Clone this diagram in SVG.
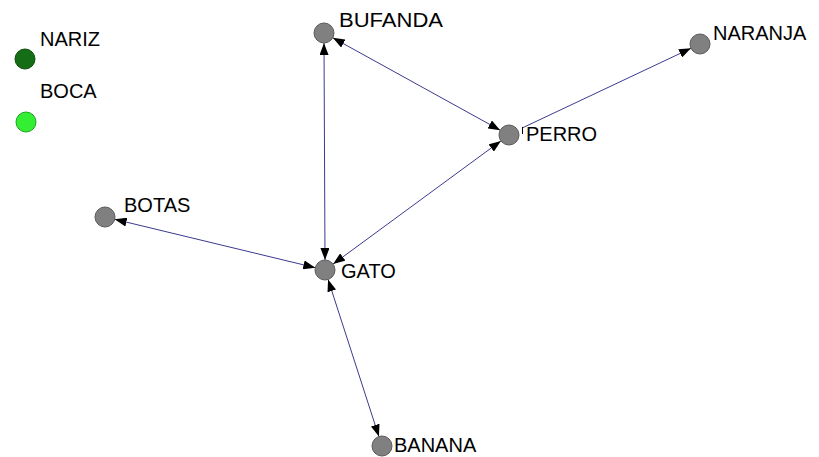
<svg xmlns="http://www.w3.org/2000/svg" width="819" height="457" viewBox="0 0 819 457">
  <style>
    .edge { stroke: #3b3b8f; stroke-width: 1; fill: none; }
    .node { fill: #808080; stroke: #5a5a5a; stroke-width: 1; }
    .lbl { font-family: "Liberation Sans", Arial, sans-serif; font-size: 20px; fill: #000; }
  </style>
  <defs>
    <marker id="arrow" viewBox="0 0 12 9" refX="12" refY="4.5" markerWidth="12" markerHeight="9" markerUnits="userSpaceOnUse" orient="auto-start-reverse">
      <path d="M0,0 L12,4.5 L0,9 z" fill="#000"/>
    </marker>
  </defs>
  <rect width="819" height="457" fill="#fff"/>

  <!-- connectors -->
  <g id="edges">
    <line class="edge" x1="324" y1="43" x2="325" y2="260" marker-start="url(#arrow)" marker-end="url(#arrow)"/>
    <line class="edge" x1="332.8" y1="37.8" x2="500.2" y2="130.2" marker-start="url(#arrow)" marker-end="url(#arrow)"/>
    <line class="edge" x1="523" y1="127.6" x2="691" y2="48.3" marker-end="url(#arrow)"/>
    <line class="edge" x1="333.1" y1="264.1" x2="500.9" y2="140.9" marker-start="url(#arrow)" marker-end="url(#arrow)"/>
    <line class="edge" x1="114.7" y1="219.3" x2="315.3" y2="267.7" marker-start="url(#arrow)" marker-end="url(#arrow)"/>
    <line class="edge" x1="328.1" y1="279.5" x2="378.9" y2="436.5" marker-start="url(#arrow)" marker-end="url(#arrow)"/>
  </g>

  <!-- nodes -->
  <g id="nariz">
    <circle cx="25" cy="59" r="10" fill="#156d15" stroke="#0d4d0d"/>
    <text class="lbl" x="40" y="46">NARIZ</text>
  </g>
  <g id="boca">
    <circle cx="26" cy="122" r="10" fill="#33ee33" stroke="#1fa51f"/>
    <text class="lbl" x="40" y="98">BOCA</text>
  </g>
  <g id="bufanda">
    <circle class="node" cx="324" cy="33" r="10"/>
    <text class="lbl" x="339" y="27" textLength="104" lengthAdjust="spacingAndGlyphs">BUFANDA</text>
  </g>
  <g id="naranja">
    <circle class="node" cx="700" cy="44" r="10"/>
    <text class="lbl" x="713" y="40">NARANJA</text>
  </g>
  <g id="perro">
    <circle class="node" cx="509" cy="135" r="10"/>
    <line x1="522.5" y1="127" x2="522.5" y2="134" stroke="#000" stroke-width="1"/>
    <text class="lbl" x="526" y="141">PERRO</text>
  </g>
  <g id="botas">
    <circle class="node" cx="105" cy="217" r="10"/>
    <text class="lbl" x="124" y="212">BOTAS</text>
  </g>
  <g id="gato">
    <circle class="node" cx="325" cy="270" r="10"/>
    <text class="lbl" x="341" y="278">GATO</text>
  </g>
  <g id="banana">
    <circle class="node" cx="382" cy="446" r="10"/>
    <text class="lbl" x="394" y="452">BANANA</text>
  </g>
</svg>
